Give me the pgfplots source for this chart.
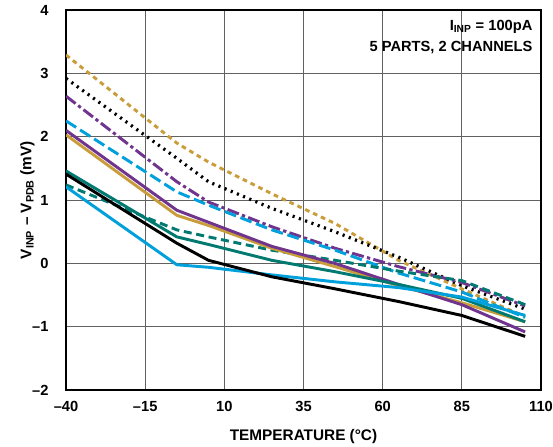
\documentclass[border=0pt]{standalone}
\usepackage{fontspec}
\setmainfont{Liberation Sans}
\usepackage{pgfplots}
\pgfplotsset{compat=1.18}

\definecolor{cgold}{RGB}{201,157,58}
\definecolor{cteal}{RGB}{0,122,112}
\definecolor{ccyan}{RGB}{0,160,220}
\definecolor{cpurple}{RGB}{112,52,142}

\begin{document}
\begin{tikzpicture}
% page = 553 x 446 px at 0.75pt per px
\useasboundingbox (-49.5pt,-42pt) rectangle (365pt,292.5pt);
\begin{axis}[
    scale only axis,
    width=356pt, height=285pt,
    xmin=-40, xmax=110, ymin=-2, ymax=4,
    xtick={-40,-15,10,35,60,85,110},
    xticklabels={–40,–15,10,35,60,85,110},
    ytick={-2,-1,0,1,2,3,4},
    yticklabels={–2,–1,0,1,2,3,4},
    grid=major,
    grid style={line width=0.85pt, color=black!62},
    axis line style={line width=1.5pt},
    major tick length=0pt,
    tick label style={font=\bfseries\fontsize{11}{13}\selectfont, inner sep=0pt},
    yticklabel style={anchor=east, xshift=-13pt},
    xticklabel style={anchor=north, yshift=-8pt},
    label style={font=\bfseries\fontsize{11.5}{13}\selectfont},
    xlabel={TEMPERATURE (°C)},
    ylabel={V\textsubscript{INP} – V\textsubscript{PDB} (mV)},
    xlabel style={at={(rel axis cs:0.5,0)}, anchor=center, yshift=-35pt},
    ylabel style={at={(rel axis cs:0,0.5)}, anchor=center, yshift=29pt},
    every axis plot/.append style={line width=2.2pt, no markers},
  ]
% gold dotted
\addplot[cgold, dash pattern=on 3.5pt off 3pt] coordinates {
  (-40,3.29) (-5,1.90) (5,1.60) (25,1.10) (45,0.63) (65,0.05) (85,-0.40) (105,-0.84)};
% black dotted
\addplot[black, dash pattern=on 1.6pt off 3.4pt, line width=2.4pt] coordinates {
  (-40,2.92) (-5,1.66) (5,1.29) (25,0.87) (45,0.50) (65,0.10) (85,-0.35) (105,-0.72)};
% purple dash-dot
\addplot[cpurple, dash pattern=on 9pt off 2.5pt on 2.5pt off 2.5pt] coordinates {
  (-40,2.64) (-5,1.29) (5,0.97) (25,0.58) (45,0.24) (65,-0.05) (85,-0.30) (105,-0.67)};
% cyan dashed
\addplot[ccyan, dash pattern=on 9pt off 3.5pt] coordinates {
  (-40,2.25) (-5,1.13) (5,0.92) (25,0.53) (45,0.21) (65,-0.15) (85,-0.45) (105,-0.85)};
% teal dashed
\addplot[cteal, dash pattern=on 6pt off 3.5pt] coordinates {
  (-40,1.24) (-5,0.53) (5,0.42) (25,0.21) (45,0.05) (65,-0.12) (85,-0.27) (105,-0.65)};
% gold solid
\addplot[cgold] coordinates {
  (-40,2.03) (-5,0.76) (5,0.60) (25,0.24) (45,-0.05) (65,-0.35) (85,-0.62) (105,-0.92)};
% purple solid
\addplot[cpurple] coordinates {
  (-40,2.10) (-5,0.84) (5,0.65) (25,0.27) (45,0.00) (65,-0.33) (85,-0.65) (105,-1.08)};
% teal solid
\addplot[cteal] coordinates {
  (-40,1.46) (-5,0.42) (5,0.30) (25,0.05) (45,-0.13) (65,-0.33) (85,-0.55) (105,-0.92)};
% cyan solid
\addplot[ccyan] coordinates {
  (-40,1.21) (-5,-0.02) (5,-0.06) (25,-0.18) (45,-0.29) (65,-0.38) (85,-0.53) (105,-0.82)};
% black solid
\addplot[black] coordinates {
  (-40,1.41) (-5,0.32) (5,0.05) (25,-0.21) (45,-0.40) (65,-0.60) (85,-0.82) (105,-1.15)};
\node[anchor=north east, align=right, inner sep=0pt,
      font=\bfseries\fontsize{11}{15.75}\selectfont]
  at (rel axis cs:0.9825,0.974) {I\textsubscript{INP} = 100pA\\5 PARTS, 2 CHANNELS};
\end{axis}
\end{tikzpicture}
\end{document}
